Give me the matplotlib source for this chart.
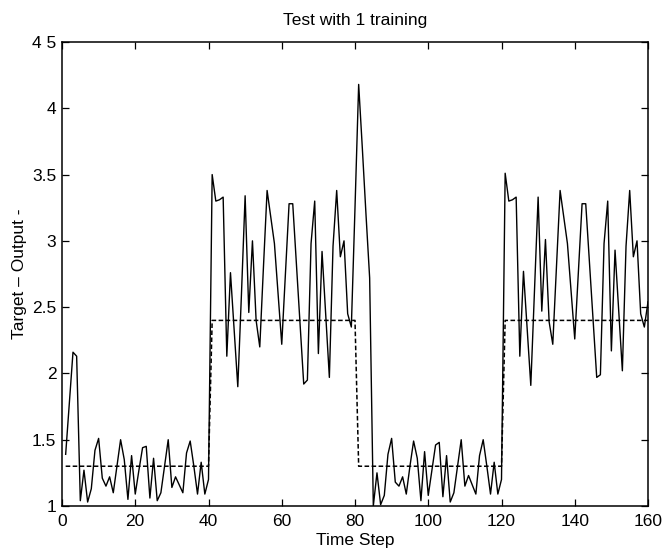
import matplotlib
matplotlib.use("Agg")
import matplotlib.pyplot as plt
import numpy as np

plt.rcParams['font.family'] = ['Liberation Sans', 'DejaVu Sans']

time_steps = list(range(1, 161))

output_seg1 = [1.39, 1.77, 2.16, 2.13, 1.04, 1.27, 1.03, 1.13, 1.42, 1.51,
               1.21, 1.15, 1.22, 1.10, 1.30, 1.50, 1.35, 1.05, 1.38, 1.09,
               1.27, 1.44, 1.45, 1.06, 1.36, 1.04, 1.10, 1.30, 1.50, 1.14,
               1.22, 1.16, 1.10, 1.40, 1.49, 1.30, 1.09, 1.33, 1.09, 1.20]
output_seg2 = [3.50, 3.30, 3.31, 3.33, 2.13, 2.76, 2.33, 1.90, 2.60, 3.34,
               2.46, 3.00, 2.40, 2.20, 2.80, 3.38, 3.18, 2.98, 2.60, 2.22,
               2.75, 3.28, 3.28, 2.83, 2.37, 1.92, 1.95, 2.98, 3.30, 2.15,
               2.92, 2.45, 1.97, 2.96, 3.38, 2.88, 3.00, 2.45, 2.35, 3.25]
output_seg3 = [4.18, 3.70, 3.20, 2.72, 1.00, 1.25, 1.01, 1.08, 1.39, 1.51,
               1.18, 1.15, 1.22, 1.09, 1.30, 1.49, 1.36, 1.04, 1.41, 1.08,
               1.27, 1.46, 1.48, 1.07, 1.38, 1.03, 1.10, 1.30, 1.50, 1.15,
               1.23, 1.16, 1.09, 1.38, 1.50, 1.30, 1.09, 1.33, 1.09, 1.20]
output_seg4 = [3.51, 3.30, 3.31, 3.33, 2.13, 2.77, 2.34, 1.91, 2.62, 3.33,
               2.47, 3.01, 2.39, 2.22, 2.80, 3.38, 3.18, 2.98, 2.62, 2.26,
               2.77, 3.28, 3.28, 2.84, 2.40, 1.97, 1.99, 2.98, 3.30, 2.17,
               2.93, 2.47, 2.02, 2.96, 3.38, 2.88, 3.00, 2.45, 2.35, 2.54]
output = output_seg1 + output_seg2 + output_seg3 + output_seg4

target_levels = [1.3, 2.4, 1.3, 2.4]
target = [lvl for lvl in target_levels for _ in range(40)]

x_ticks = [0, 20, 40, 60, 80, 100, 120, 140, 160]
y_ticks = [1, 1.5, 2, 2.5, 3, 3.5, 4, 4.5]
y_tick_labels = ["1", "1.5", "2", "2.5", "3", "3.5", "4", "4 5"]

fig = plt.figure(figsize=(6.66, 5.54), dpi=100)
ax = fig.add_axes([62/666, 1 - 506/554, (648 - 62)/666, (506 - 42)/554])

ax.plot(time_steps, target, color='black', linewidth=1.1, linestyle=(0, (3, 1.6)))
ax.plot(time_steps, output, color='black', linewidth=1.0)

ax.set_xlim(0, 160)
ax.set_ylim(1, 4.5)
ax.set_xticks(x_ticks)
ax.set_yticks(y_ticks)
ax.set_yticklabels(y_tick_labels)
ax.tick_params(direction='in', top=True, right=True, length=5, width=0.9,
               labelsize=12.5)
ax.tick_params(axis='x', pad=6)
ax.tick_params(axis='y', pad=4)
for s in ax.spines.values():
    s.set_linewidth(1.1)

ax.set_title("Test with 1 training", fontsize=12.5, pad=12)
ax.set_xlabel("Time Step", fontsize=12.5, labelpad=3)
ax.set_ylabel("Target – Output -", fontsize=12.5, labelpad=4)

fig.savefig("out.png", dpi=100)
